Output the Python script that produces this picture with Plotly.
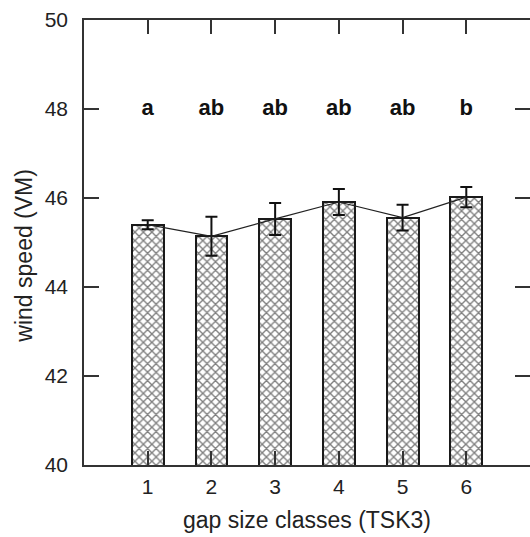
import plotly.graph_objects as go

categories = [1, 2, 3, 4, 5, 6]
means = [45.40, 45.14, 45.53, 45.91, 45.56, 46.02]
errors = [0.10, 0.44, 0.36, 0.29, 0.29, 0.23]
letters = ["a", "ab", "ab", "ab", "ab", "b"]
letter_y = [48, 48, 48, 48, 48, 48]
y_ticks = [40, 42, 44, 46, 48, 50]

FONT = "Liberation Sans, Arial, Helvetica, sans-serif"
AX = "#333333"

fig = go.Figure()
fig.add_trace(go.Bar(
    x=categories, y=means, width=0.5,
    base=0,
    marker=dict(color="white",
                line=dict(color="#1a1a1a", width=2),
                pattern=dict(shape="x", fgcolor="#000000", bgcolor="white",
                             size=6, solidity=0.4)),
    error_y=dict(type="data", array=errors, visible=True,
                 color="#111111", thickness=2, width=6),
    showlegend=False,
))
fig.add_trace(go.Scatter(
    x=categories, y=means, mode="lines",
    line=dict(color="#222222", width=1.2), showlegend=False,
))
fig.add_trace(go.Scatter(
    x=categories, y=letter_y, mode="text", text=letters,
    textfont=dict(family=FONT, size=22, color="#111111"),
    texttemplate="<b>%{text}</b>",
    showlegend=False,
))

fig.update_layout(
    width=540, height=537,
    margin=dict(l=84, r=8, t=20, b=70),
    plot_bgcolor="white", paper_bgcolor="white",
    font=dict(family=FONT, size=20, color="#222222"),
    bargap=0,
    annotations=[dict(
        text="wind speed (VM)", xref="paper", yref="paper",
        x=-0.135, y=0.47, textangle=-90, showarrow=False,
        xanchor="center", yanchor="middle",
        font=dict(size=23, color="#222222", family=FONT),
    )],
)
fig.update_xaxes(
    range=[0, 7], tickvals=categories, ticktext=[str(c) for c in categories],
    ticks="inside", ticklen=14, tickwidth=1.5, tickcolor=AX,
    showline=True, linecolor=AX, linewidth=1.5, mirror="ticks",
    showgrid=False, zeroline=False,
    tickfont=dict(size=21), ticklabelstandoff=2,
    title=dict(text="gap size classes (TSK3)", font=dict(size=23), standoff=15),
)
fig.update_yaxes(
    range=[40, 50], tickvals=y_ticks,
    ticks="inside", ticklen=15, tickwidth=1.5, tickcolor=AX,
    showline=True, linecolor=AX, linewidth=1.5, mirror="ticks",
    showgrid=False, zeroline=False,
    tickfont=dict(size=21), ticklabelstandoff=10,
)

fig.write_html("out.html", config={"displayModeBar": False},
               post_script="document.body.style.margin='0';document.body.style.overflow='hidden';document.documentElement.style.overflow='hidden';")
